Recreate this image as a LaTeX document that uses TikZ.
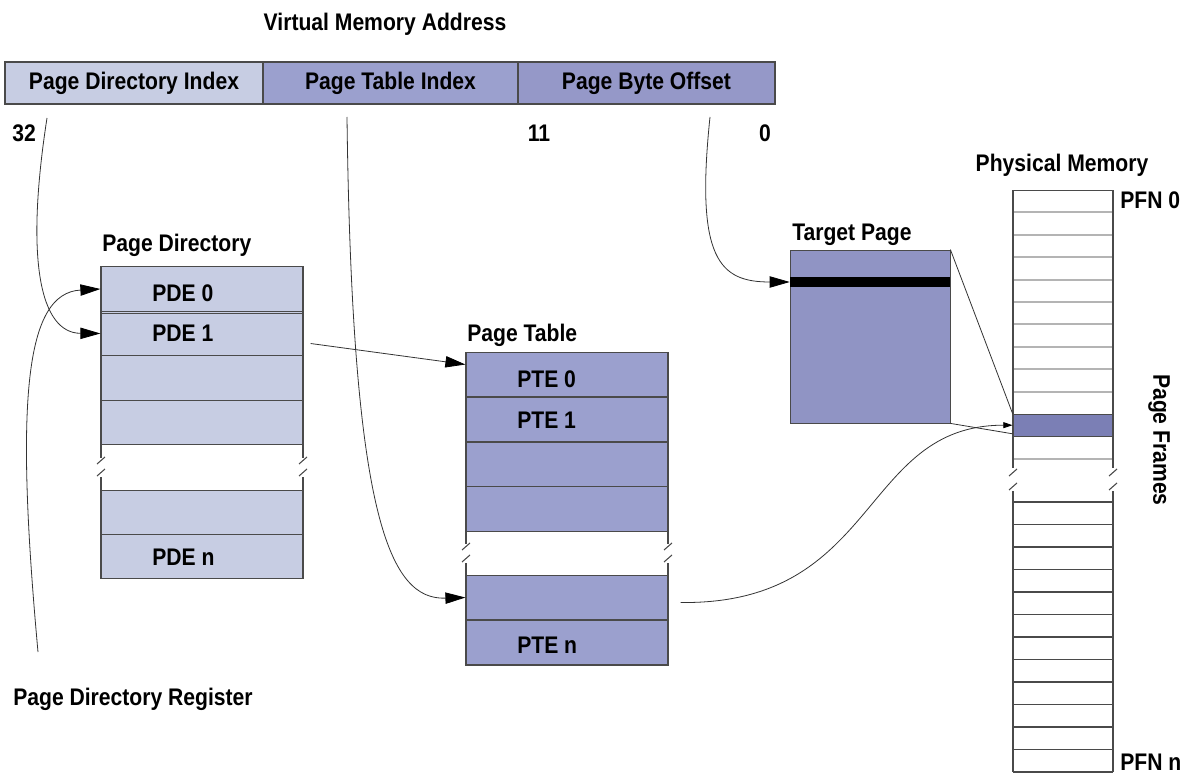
\documentclass[tikz,border=0pt]{standalone}
\usepackage{fontspec}
\setmainfont{Liberation Sans}[FakeStretch=0.88]
\usetikzlibrary{arrows.meta}
\definecolor{pdc}{HTML}{C7CDE3}
\definecolor{ptc}{HTML}{9BA0CE}
\definecolor{poc}{HTML}{9598C8}
\definecolor{tpc}{HTML}{9094C4}
\definecolor{hlc}{HTML}{7B7FB5}
\definecolor{edge}{HTML}{4A4A4A}
\definecolor{lgrey}{HTML}{B4B4B4}
\begin{document}
\begin{tikzpicture}[x=0.75pt,y=-0.75pt,
  every node/.style={font=\fontsize{18}{21}\selectfont\bfseries, text=black},
  lbl/.style={inner sep=0pt, text height=13pt, text depth=0pt},
  barcell/.style={draw=edge, line width=0.9pt, inner sep=0pt, minimum height=31.5pt},
  pdcell/.style={draw=edge, line width=0.9pt, fill=pdc, inner sep=0pt, minimum width=151.5pt, minimum height=33.4pt},
  ptcell/.style={draw=edge, line width=0.9pt, fill=ptc, inner sep=0pt, minimum width=151.5pt, minimum height=33.6pt},
  conn/.style={draw=black!80, line width=0.6pt},
  bigtip/.style={-{Triangle[length=15pt,width=8.5pt,color=black]}},
  sidel/.style={draw=edge, line width=0.8pt},
  brk/.style={draw=edge, line width=0.8pt}
]
\useasboundingbox (0,0) rectangle (1190,774);

% ---------- Virtual address ----------
\node[lbl] (vma) at (385,22) {Virtual Memory Address};
\node[barcell, fill=pdc, minimum width=193.5pt] (pdi) at (134,83) {Page Directory Index};
\node[barcell, fill=ptc, minimum width=191.25pt] (pti) at (390.5,83) {Page Table Index};
\node[barcell, fill=poc, minimum width=192.75pt] (pbo) at (646.5,83) {Page Byte Offset};
\node[lbl, anchor=west] (n32) at (12,133) {32};
\node[lbl] (n11) at (539,133) {11};
\node[lbl] (n0) at (765,133) {0};

% ---------- Page directory ----------
\node[lbl, anchor=west] (pdt) at (102,243) {Page Directory};
\node[pdcell] (pde0) at (202,289) {};
\node[pdcell] (pde1) at (202,333.5) {};
\node[pdcell] (pde2) at (202,378) {};
\node[pdcell] (pde3) at (202,422.5) {};
\node[pdcell] (pde4) at (202,512.5) {};
\node[pdcell] (pden) at (202,556.5) {};
\draw[edge, line width=0.5pt] (101,313) -- (303,313);
\node[lbl, anchor=west] (pde0t) at (152,293) {PDE 0};
\node[lbl, anchor=west] (pde1t) at (152,333) {PDE 1};
\node[lbl, anchor=west] (pdent) at (152,557) {PDE n};
\foreach \xx in {101,303}{
  \draw[sidel] (\xx,445) -- (\xx,458);
  \draw[brk] (\xx-4,464) -- (\xx+4,457);
  \draw[brk] (\xx-4,476) -- (\xx+4,469);
  \draw[sidel] (\xx,477) -- (\xx,490);
}

% ---------- Page table ----------
\node[lbl, anchor=west] (ptt) at (467,333) {Page Table};
\node[ptcell] (pte0) at (567,374.5) {};
\node[ptcell] (pte1) at (567,419.5) {};
\node[ptcell] (pte2) at (567,464.5) {};
\node[ptcell] (pte3) at (567,509) {};
\node[ptcell] (ptex) at (567,597.5) {};
\node[ptcell] (pten) at (567,642.5) {};
\node[lbl, anchor=west] (pte0t) at (517,379) {PTE 0};
\node[lbl, anchor=west] (pte1t) at (517,420) {PTE 1};
\node[lbl, anchor=west] (ptent) at (517,645) {PTE n};
\foreach \xx in {466,668}{
  \draw[sidel] (\xx,531) -- (\xx,544);
  \draw[brk] (\xx-4,550) -- (\xx+4,543);
  \draw[brk] (\xx-4,562) -- (\xx+4,555);
  \draw[sidel] (\xx,563) -- (\xx,575);
}

% ---------- Target page ----------
\node[lbl, anchor=west] (tpt) at (792,232) {Target Page};
\node[draw=edge, line width=0.6pt, fill=tpc, inner sep=0pt, minimum width=120pt, minimum height=129.75pt] (tp) at (870,336.5) {};
\node[fill=black, inner sep=0pt, minimum width=120pt, minimum height=7.5pt] (tpbar) at (870,282) {};

% ---------- Physical memory ----------
\node[lbl] (pmt) at (1062,163) {Physical Memory};
\node[lbl, anchor=west] (pfn0) at (1120,200) {PFN 0};
\node[lbl, anchor=west] (pfnn) at (1120,762) {PFN n};
\node[lbl, rotate=-90] (pft) at (1162,440) {Page Frames};
\foreach \k in {1,...,9,12}{
  \draw[lgrey, line width=1.6pt] (1013,190+22.4*\k) -- (1113,190+22.4*\k);
}
\draw[edge, line width=0.6pt] (1013,190) -- (1113,190);
\node[draw=edge, line width=0.6pt, fill=hlc, inner sep=0pt, minimum width=75pt, minimum height=16.8pt] (hl) at (1063,425.2) {};
\foreach \k in {0,...,12}{
  \draw[edge, line width=0.8pt] (1013,502+22.5*\k) -- (1113,502+22.5*\k);
}
\foreach \xx in {1013,1113}{
  \draw[sidel] (\xx,190) -- (\xx,468);
  \draw[brk] (\xx-4,476) -- (\xx+4,469);
  \draw[brk] (\xx-4,490) -- (\xx+4,483);
  \draw[sidel] (\xx,491) -- (\xx,772);
}

% ---------- Register label ----------
\node[lbl, anchor=west] (pdr) at (13,697) {Page Directory Register};

% ---------- Connectors ----------
\coordinate (s32) at (47,118);
\coordinate (spti) at (347,117);
\coordinate (spbo) at (710,117);
\coordinate (spdr) at (38,652);

\draw[conn, bigtip] (s32) .. controls (25,260) and (40,333) .. (pde1.west);
\draw[conn, bigtip] (spdr) .. controls (15,400) and (25,293) .. (pde0.west);
\draw[conn, bigtip] (spti) .. controls (352,520) and (390,600) .. (ptex.west);
\draw[conn, bigtip] (spbo) .. controls (695,260) and (720,282) .. (tpbar.west);
\draw[conn, bigtip] ([shift={(7,10)}]pde1.east) -- ([shift={(0,13)}]pte0.north west);
\draw[conn, -{Triangle[length=7pt,width=4.5pt,color=black]}] ([shift={(12,5)}]ptex.east) .. controls (880,605) and (860,425) .. (hl.west);
\draw[conn] (tp.north east) -- (hl.north west);
\draw[conn] (tp.south east) -- ([shift={(0,-3)}]hl.south west);
\end{tikzpicture}
\end{document}
